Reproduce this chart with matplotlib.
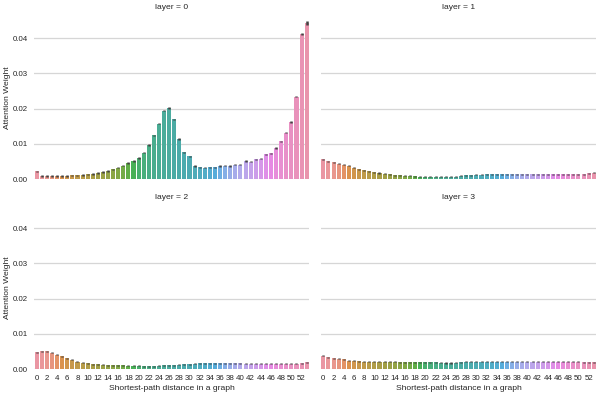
import numpy as np
import matplotlib.pyplot as plt
import seaborn as sns

plt.rcParams['font.family'] = ['Liberation Sans', 'DejaVu Sans']

distance = list(range(54))

layer0 = [0.0022, 0.0009, 0.0008, 0.0008, 0.0008, 0.0008, 0.0009, 0.0010, 0.0010, 0.0011,
          0.0013, 0.0014, 0.0017, 0.0020, 0.0023, 0.0027, 0.0032, 0.0038, 0.0045, 0.0051,
          0.0060, 0.0075, 0.0096, 0.0124, 0.0157, 0.0194, 0.0202, 0.0169, 0.0114, 0.0076,
          0.0064, 0.0037, 0.0033, 0.0032, 0.0033, 0.0033, 0.0037, 0.0038, 0.0037, 0.0041,
          0.0041, 0.0051, 0.0049, 0.0056, 0.0058, 0.0070, 0.0073, 0.0088, 0.0107, 0.0132,
          0.0162, 0.0234, 0.0412, 0.0443]
layer1 = [0.0056, 0.0051, 0.0047, 0.0044, 0.0041, 0.0038, 0.0032, 0.0028, 0.0025, 0.0022,
          0.0019, 0.0017, 0.0015, 0.0013, 0.0011, 0.0010, 0.0009, 0.0009, 0.0008, 0.0007,
          0.0007, 0.0007, 0.0006, 0.0006, 0.0006, 0.0006, 0.0007, 0.0009, 0.0010, 0.0011,
          0.0012, 0.0012, 0.0013, 0.0013, 0.0013, 0.0013, 0.0013, 0.0013, 0.0013, 0.0013,
          0.0013, 0.0013, 0.0013, 0.0013, 0.0013, 0.0013, 0.0013, 0.0013, 0.0013, 0.0013,
          0.0013, 0.0014, 0.0016, 0.0018]
layer2 = [0.0048, 0.0050, 0.0050, 0.0046, 0.0041, 0.0036, 0.0030, 0.0026, 0.0021, 0.0018,
          0.0016, 0.0014, 0.0013, 0.0012, 0.0010, 0.0010, 0.0010, 0.0010, 0.0009, 0.0009,
          0.0009, 0.0008, 0.0008, 0.0008, 0.0009, 0.0010, 0.0010, 0.0011, 0.0012, 0.0013,
          0.0014, 0.0015, 0.0016, 0.0016, 0.0016, 0.0016, 0.0016, 0.0016, 0.0016, 0.0016,
          0.0016, 0.0015, 0.0015, 0.0015, 0.0015, 0.0015, 0.0015, 0.0015, 0.0015, 0.0015,
          0.0015, 0.0015, 0.0016, 0.0019]
layer3 = [0.0038, 0.0033, 0.0030, 0.0029, 0.0027, 0.0024, 0.0023, 0.0022, 0.0021, 0.0020,
          0.0020, 0.0020, 0.0020, 0.0020, 0.0020, 0.0019, 0.0019, 0.0019, 0.0019, 0.0019,
          0.0019, 0.0019, 0.0019, 0.0018, 0.0017, 0.0017, 0.0018, 0.0019, 0.0020, 0.0021,
          0.0021, 0.0021, 0.0021, 0.0021, 0.0021, 0.0021, 0.0021, 0.0021, 0.0021, 0.0021,
          0.0021, 0.0020, 0.0020, 0.0020, 0.0020, 0.0020, 0.0020, 0.0020, 0.0020, 0.0020,
          0.0020, 0.0019, 0.0019, 0.0019]

# error bar half widths (tiny confidence intervals)
err0 = [0.0002] * 52 + [0.0003, 0.0005]
err_rest = [0.00015] * 54

layers = [layer0, layer1, layer2, layer3]
errs = [err0, err_rest, err_rest, err_rest]

colors = sns.husl_palette(len(distance), l=.7)
colors = [sns.desaturate(c, .75) for c in colors]

fig = plt.figure(figsize=(5.98, 3.96), dpi=100)
W, H = 598, 396
rects = [(34.2, 17, 275, 162), (320.8, 17, 275.5, 162),
         (34.2, 207, 275, 162), (320.8, 207, 275.5, 162)]

for i, (vals, err) in enumerate(zip(layers, errs)):
    x0, y0, w, h = rects[i]
    ax = fig.add_axes([x0 / W, 1 - (y0 + h) / H, w / W, h / H])
    ax.bar(distance, vals, width=0.8, color=colors, zorder=2)
    ax.vlines(distance, np.array(vals) - np.array(err), np.array(vals) + np.array(err),
              color='#424242', linewidth=1.8, zorder=3)
    ax.set_xlim(-0.5, 53.5)
    ax.set_ylim(0, 0.046)
    ax.set_yticks([0, 0.01, 0.02, 0.03, 0.04])
    ax.yaxis.grid(True, color='#d6d6d6', linewidth=0.9, zorder=0)
    ax.set_axisbelow(True)
    for s in ax.spines.values():
        s.set_visible(False)
    ax.tick_params(length=0, labelsize=5.7, colors='#262626')
    ax.tick_params(axis='y', pad=4.5)
    ax.tick_params(axis='x', pad=4.5)
    ax.set_title("layer = %d" % i, fontsize=6.1, color='#262626', pad=6)
    if i % 2 == 0:
        ax.set_yticklabels(["0.00", "0.01", "0.02", "0.03", "0.04"])
        ax.set_ylabel("Attention Weight", fontsize=6.1, color='#262626', labelpad=1.5)
    else:
        ax.set_yticklabels([])
    ax.set_xticks(distance[::2])
    if i >= 2:
        ax.set_xticklabels([str(d) for d in distance[::2]])
        ax.set_xlabel("Shortest-path distance in a graph", fontsize=6.1, color='#262626', labelpad=2)
    else:
        ax.set_xticklabels([])

fig.savefig("out.png", dpi=100)
